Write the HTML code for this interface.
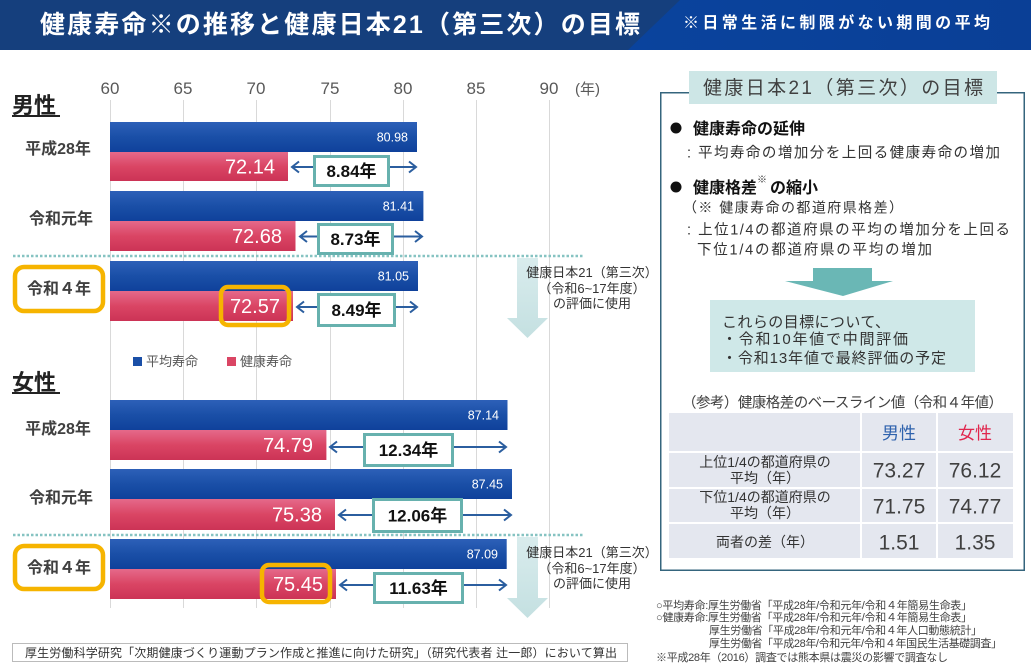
<!DOCTYPE html>
<html><head><meta charset="utf-8">
<style>
html,body{margin:0;padding:0;background:#fff;}
svg{display:block;}
</style></head>
<body>
<svg width="1031" height="669" viewBox="0 0 1031 669" xmlns="http://www.w3.org/2000/svg" font-family="'Liberation Sans','Noto Sans CJK JP',sans-serif">
<defs>
<linearGradient id="gb" x1="0" y1="0" x2="0" y2="1">
<stop offset="0" stop-color="#2d60b8"/><stop offset="0.5" stop-color="#1a4fa7"/><stop offset="1" stop-color="#0f419b"/>
</linearGradient>
<linearGradient id="gp" x1="0" y1="0" x2="0" y2="1">
<stop offset="0" stop-color="#e5698a"/><stop offset="0.5" stop-color="#da4564"/><stop offset="1" stop-color="#cc3356"/>
</linearGradient>
<linearGradient id="gh" x1="0" y1="0" x2="1" y2="0">
<stop offset="0" stop-color="#0b4aa8"/><stop offset="1" stop-color="#0a3f96"/>
</linearGradient>
<linearGradient id="ga" x1="0" y1="0" x2="0" y2="1">
<stop offset="0" stop-color="#d9eced"/><stop offset="1" stop-color="#c4e0e1"/>
</linearGradient>
</defs>

<!-- header -->
<rect x="0" y="0" width="1031" height="50" fill="url(#gh)"/>
<polygon points="0,0 680,0 628,50 0,50" fill="#153f7d"/>
<text x="40" y="33" font-size="25" font-weight="bold" fill="#fff" textLength="600" lengthAdjust="spacing">健康寿命※の推移と健康日本21（第三次）の目標</text>
<text x="683" y="28" font-size="16" font-weight="bold" fill="#fff" textLength="307" lengthAdjust="spacing">※日常生活に制限がない期間の平均</text>

<!-- gridlines -->
<g stroke="#d9d9d9" stroke-width="1">
<line x1="110.5" y1="100" x2="110.5" y2="608"/>
<line x1="183.5" y1="100" x2="183.5" y2="608"/>
<line x1="256.5" y1="100" x2="256.5" y2="608"/>
<line x1="330.5" y1="100" x2="330.5" y2="608"/>
<line x1="403.5" y1="100" x2="403.5" y2="608"/>
<line x1="476.5" y1="100" x2="476.5" y2="608"/>
<line x1="549.5" y1="100" x2="549.5" y2="608"/>
</g>

<!-- axis labels -->
<g font-size="17" fill="#595959" text-anchor="middle">
<text x="110" y="94">60</text><text x="183" y="94">65</text><text x="256" y="94">70</text>
<text x="330" y="94">75</text><text x="403" y="94">80</text><text x="476" y="94">85</text>
<text x="549" y="94">90</text>
</g>
<text x="575" y="94" font-size="15" fill="#595959">(年)</text>

<!-- section titles -->
<text x="12" y="113" font-size="22" font-weight="bold" fill="#222">男性</text>
<rect x="12" y="115" width="48" height="2" fill="#222"/>
<text x="12" y="390" font-size="22" font-weight="bold" fill="#222">女性</text>
<rect x="12" y="392" width="48" height="2" fill="#222"/>

<!-- down arrows -->
<polygon points="517,258 538,258 538,318 548,318 527.5,338 507,318 517,318" fill="url(#ga)"/>
<polygon points="517,537 538,537 538,598 548,598 527.5,618 507,598 517,598" fill="url(#ga)"/>

<!-- dotted separators -->
<line x1="13" y1="256" x2="583" y2="256" stroke="#86c3c2" stroke-width="2.5" stroke-dasharray="2.5,2"/>
<line x1="13" y1="535" x2="583" y2="535" stroke="#86c3c2" stroke-width="2.5" stroke-dasharray="2.5,2"/>

<!-- bars male -->
<rect x="110" y="122" width="307" height="30" fill="url(#gb)"/>
<rect x="110" y="152" width="178" height="29" fill="url(#gp)"/>
<rect x="110" y="191" width="313.4" height="30" fill="url(#gb)"/>
<rect x="110" y="221" width="185.5" height="30" fill="url(#gp)"/>
<rect x="110" y="261" width="308" height="30" fill="url(#gb)"/>
<rect x="110" y="291" width="183" height="30" fill="url(#gp)"/>
<!-- bars female -->
<rect x="110" y="400" width="397.5" height="30" fill="url(#gb)"/>
<rect x="110" y="430" width="216.4" height="30" fill="url(#gp)"/>
<rect x="110" y="469" width="402" height="30" fill="url(#gb)"/>
<rect x="110" y="499" width="225" height="31" fill="url(#gp)"/>
<rect x="110" y="539" width="396.7" height="30" fill="url(#gb)"/>
<rect x="110" y="569" width="226" height="30" fill="url(#gp)"/>

<!-- value labels -->
<g fill="#fff" font-size="12.5" text-anchor="end">
<text x="408" y="141.5">80.98</text>
<text x="414" y="210.5">81.41</text>
<text x="409" y="280.5">81.05</text>
<text x="499" y="419.5">87.14</text>
<text x="503" y="488.5">87.45</text>
<text x="498" y="558.5">87.09</text>
</g>
<g fill="#fff" font-size="20" text-anchor="end">
<text x="275" y="173.5">72.14</text>
<text x="282" y="243">72.68</text>
<text x="280" y="313">72.57</text>
<text x="313" y="452">74.79</text>
<text x="322" y="521.5">75.38</text>
<text x="323" y="591">75.45</text>
</g>

<!-- arrows -->
<g stroke="#2b5e9f" stroke-width="2" fill="none">
<line x1="292" y1="167" x2="416" y2="167"/><polyline points="299,161.5 292,167 299,172.5"/><polyline points="409,161.5 416,167 409,172.5"/>
<line x1="300" y1="236.5" x2="422" y2="236.5"/><polyline points="307,231 300,236.5 307,242"/><polyline points="415,231 422,236.5 415,242"/>
<line x1="297" y1="307" x2="417" y2="307"/><polyline points="304,301.5 297,307 304,312.5"/><polyline points="410,301.5 417,307 410,312.5"/>
<line x1="330" y1="447" x2="506" y2="447"/><polyline points="337,441.5 330,447 337,452.5"/><polyline points="499,441.5 506,447 499,452.5"/>
<line x1="339" y1="515" x2="511" y2="515"/><polyline points="346,509.5 339,515 346,520.5"/><polyline points="504,509.5 511,515 504,520.5"/>
<line x1="340" y1="585" x2="506" y2="585"/><polyline points="347,579.5 340,585 347,590.5"/><polyline points="499,579.5 506,585 499,590.5"/>
</g>

<!-- difference boxes -->
<g fill="#fff" stroke="#67b1ae" stroke-width="3">
<rect x="314.5" y="156.5" width="74" height="29"/>
<rect x="318.5" y="224.5" width="74" height="29"/>
<rect x="318.5" y="294.5" width="76" height="31"/>
<rect x="364.5" y="434.5" width="88" height="31"/>
<rect x="373.5" y="499.5" width="88" height="32"/>
<rect x="374.5" y="573.5" width="88" height="29"/>
</g>
<g fill="#111" font-size="17" font-weight="bold" text-anchor="middle">
<text x="351.5" y="177">8.84年</text>
<text x="355.5" y="245">8.73年</text>
<text x="356.5" y="316">8.49年</text>
<text x="408.5" y="456">12.34年</text>
<text x="417.5" y="521.5">12.06年</text>
<text x="418.5" y="594">11.63年</text>
</g>

<!-- orange highlight boxes -->
<g fill="none" stroke="#f6b400" stroke-width="4.5">
<rect x="15" y="267" width="88" height="44" rx="9" fill="#fff"/>
<rect x="15" y="546" width="88" height="43" rx="9" fill="#fff"/>
<rect x="221" y="287" width="68" height="38" rx="7"/>
<rect x="262" y="565" width="68" height="37" rx="7"/>
</g>

<!-- category labels -->
<g fill="#404040" font-size="16" font-weight="bold" text-anchor="middle">
<text x="58" y="154">平成28年</text>
<text x="61" y="224">令和元年</text>
<text x="59" y="294">令和４年</text>
<text x="58" y="434">平成28年</text>
<text x="61" y="503">令和元年</text>
<text x="59" y="573">令和４年</text>
</g>

<!-- legend -->
<rect x="133" y="357" width="9" height="9" fill="#1a4fa7"/>
<text x="146" y="366" font-size="13" fill="#595959">平均寿命</text>
<rect x="227" y="357" width="9" height="9" fill="#da4564"/>
<text x="240" y="366" font-size="13" fill="#595959">健康寿命</text>

<!-- arrow captions -->
<g fill="#333" font-size="13" text-anchor="middle">
<text x="592" y="277">健康日本21（第三次）</text>
<text x="592" y="293">（令和6~17年度）</text>
<text x="592" y="308">の評価に使用</text>
<text x="592" y="557">健康日本21（第三次）</text>
<text x="592" y="573">（令和6~17年度）</text>
<text x="592" y="588">の評価に使用</text>
</g>

<!-- right panel -->
<rect x="660.75" y="92.75" width="363.5" height="477.5" fill="none" stroke="#35657d" stroke-width="1.5"/>
<rect x="689" y="71" width="308" height="33" fill="#cde6e6"/>
<text x="843" y="94" font-size="19" fill="#404040" text-anchor="middle" textLength="280" lengthAdjust="spacing">健康日本21（第三次）の目標</text>

<circle cx="676" cy="128" r="5.5" fill="#111"/>
<text x="693" y="134" font-size="16" font-weight="bold" fill="#111">健康寿命の延伸</text>
<text x="687" y="157.5" font-size="14.5" fill="#333" textLength="313" lengthAdjust="spacing">: 平均寿命の増加分を上回る健康寿命の増加</text>
<circle cx="676" cy="187" r="5.5" fill="#111"/>
<text x="693" y="193" font-size="16" font-weight="bold" fill="#111">健康格差</text>
<text x="757" y="183" font-size="10" fill="#333">※</text>
<text x="770" y="193" font-size="16" font-weight="bold" fill="#111">の縮小</text>
<text x="683" y="212.5" font-size="14" fill="#333" textLength="220" lengthAdjust="spacing">（※ 健康寿命の都道府県格差）</text>
<text x="687" y="234.5" font-size="14.5" fill="#333" textLength="323" lengthAdjust="spacing">: 上位1/4の都道府県の平均の増加分を上回る</text>
<text x="697" y="254.5" font-size="14.5" fill="#333" textLength="235" lengthAdjust="spacing">下位1/4の都道府県の平均の増加</text>

<polygon points="813,268 872,268 872,281 893,281 843,296 785,281 813,281" fill="#6ab7b5"/>
<rect x="710" y="300" width="265" height="72" fill="#cfe8e8"/>
<g font-size="15" fill="#333">
<text x="722" y="327" textLength="168" lengthAdjust="spacing">これらの目標について、</text>
<text x="722" y="344" textLength="186" lengthAdjust="spacing">・令和10年値で中間評価</text>
<text x="722" y="363" textLength="224" lengthAdjust="spacing">・令和13年値で最終評価の予定</text>
</g>

<text x="682" y="407.5" font-size="14.5" fill="#404040" textLength="321" lengthAdjust="spacing">（参考）健康格差のベースライン値（令和４年値）</text>

<!-- table -->
<rect x="669" y="413" width="344" height="145" fill="#e4e7ef"/>
<g stroke="#fff" stroke-width="2">
<line x1="861" y1="413" x2="861" y2="558"/>
<line x1="937" y1="413" x2="937" y2="558"/>
<line x1="669" y1="452" x2="1013" y2="452"/>
<line x1="669" y1="488" x2="1013" y2="488"/>
<line x1="669" y1="523" x2="1013" y2="523"/>
</g>
<text x="899" y="439" font-size="17" fill="#2e62ad" text-anchor="middle">男性</text>
<text x="975" y="439" font-size="17" fill="#e0264d" text-anchor="middle">女性</text>
<g font-size="14" fill="#333" text-anchor="middle">
<text x="765" y="467">上位1/4の都道府県の</text>
<text x="765" y="483">平均（年）</text>
<text x="765" y="502">下位1/4の都道府県の</text>
<text x="765" y="518">平均（年）</text>
<text x="765" y="547">両者の差（年）</text>
</g>
<g font-size="21" fill="#404040" text-anchor="middle">
<text x="899" y="477.5">73.27</text>
<text x="975" y="477.5">76.12</text>
<text x="899" y="513.5">71.75</text>
<text x="975" y="513.5">74.77</text>
<text x="899" y="549.5">1.51</text>
<text x="975" y="549.5">1.35</text>
</g>

<!-- footnotes -->
<g font-size="11" fill="#404040">
<text x="656" y="609" textLength="316" lengthAdjust="spacing">○平均寿命:厚生労働省「平成28年/令和元年/令和４年簡易生命表」</text>
<text x="656" y="621" textLength="316" lengthAdjust="spacing">○健康寿命:厚生労働省「平成28年/令和元年/令和４年簡易生命表」</text>
<text x="709" y="634" textLength="273" lengthAdjust="spacing">厚生労働省「平成28年/令和元年/令和４年人口動態統計」</text>
<text x="709" y="647" textLength="293" lengthAdjust="spacing">厚生労働省「平成28年/令和元年/令和４年国民生活基礎調査」</text>
<text x="656" y="661" textLength="292" lengthAdjust="spacing">※平成28年（2016）調査では熊本県は震災の影響で調査なし</text>
</g>

<!-- source box -->
<rect x="12.5" y="643.5" width="615" height="18" fill="none" stroke="#777" stroke-width="1" stroke-dasharray="1,1"/>
<text x="25" y="657" font-size="12" fill="#333" textLength="592" lengthAdjust="spacing">厚生労働科学研究「次期健康づくり運動プラン作成と推進に向けた研究」（研究代表者 辻一郎）において算出</text>
</svg>
</body></html>
